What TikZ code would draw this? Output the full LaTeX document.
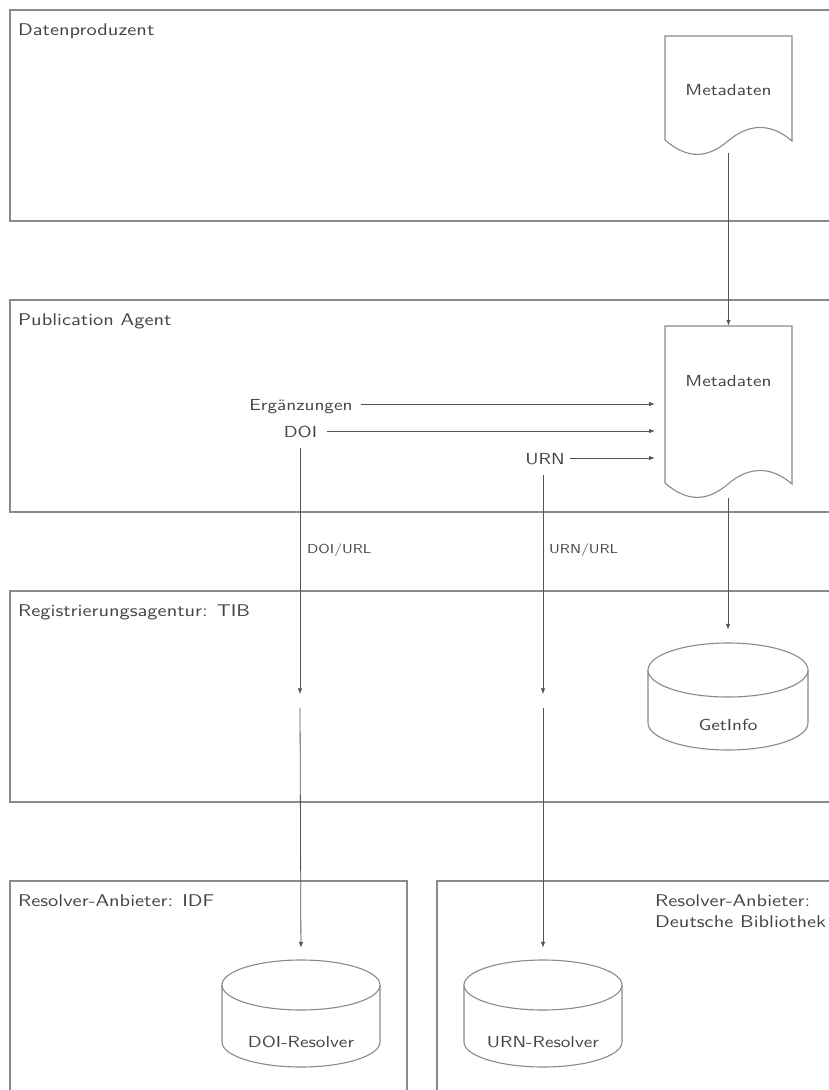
\documentclass[tikz,border=0pt]{standalone}
\usepackage{fontspec}
\setsansfont{lmsans10-regular.otf}[FakeStretch=1.2]
\usetikzlibrary{arrows.meta}
\definecolor{framecol}{HTML}{8A8A8A}
\definecolor{linecol}{HTML}{555555}
\definecolor{txtcol}{HTML}{444444}
\begin{document}
\begin{tikzpicture}[x=1pt,y=-1pt,
  frame/.style={draw=framecol, line width=1.3pt},
  shapeline/.style={draw=framecol, line width=1.1pt, fill=white},
  conn/.style={draw=linecol, line width=0.8pt, -{Latex[length=6pt,width=4.5pt]}},
  title/.style={inner sep=0pt, text=txtcol, font=\sffamily\fontsize{17}{21}\selectfont, align=left},
  lbl/.style={inner sep=0pt, text=txtcol, text height=12pt, text depth=0pt, font=\sffamily\fontsize{16}{19}\selectfont},
  small/.style={anchor=base west, inner sep=0pt, text=txtcol, font=\sffamily\fontsize{13}{15}\selectfont},
  box/.style={inner sep=0pt, draw=none},
  hub/.style={inner sep=0pt, draw=none, minimum width=1pt, minimum height=13pt}
]
\useasboundingbox (0,0) rectangle (829,1090);
\clip (0,0) rectangle (829,1090);

% frames
\draw[frame] (10,10) rectangle (845,221);
\draw[frame] (10,300) rectangle (845,512);
\draw[frame] (10,591) rectangle (845,802);
\draw[frame] (10,881) rectangle (407,1110);
\draw[frame] (437,881) rectangle (845,1110);

\node[title, anchor=base west] (t1) at (18,35) {Datenproduzent};
\node[title, anchor=base west] (t2) at (18,325) {Publication Agent};
\node[title, anchor=base west] (t3) at (18,616) {Registrierungsagentur: TIB};
\node[title, anchor=base west] (t4) at (18,906) {Resolver-Anbieter: IDF};
\node[title, anchor=north west] (t5) at (655,894) {Resolver-Anbieter:\\Deutsche Bibliothek};

% documents
\draw[shapeline] (665,36) -- (792,36) -- (792,141)
  .. controls (770,122) and (748,124) .. (728,141)
  .. controls (708,158) and (688,160) .. (665,140) -- cycle;
\node[box, minimum width=127pt, minimum height=117pt] (doc1) at (728.5,94.5) {};
\node[lbl] (doc1t) at (728.5,89) {Metadaten};

\draw[shapeline] (665,326) -- (792,326) -- (792,484)
  .. controls (770,465) and (748,467) .. (728,484)
  .. controls (708,501) and (688,503) .. (665,483) -- cycle;
\node[box, minimum width=127pt, minimum height=172pt] (doc2) at (728.5,412) {};
\node[lbl] (doc2t) at (728.5,380) {Metadaten};
\coordinate (doc2in) at (655,412);

% cylinders
\draw[shapeline] (648,670) -- (648,723) arc[start angle=180,end angle=360,x radius=80pt,y radius=27pt] -- (808,670);
\draw[shapeline] (728,670) ellipse[x radius=80pt, y radius=27pt];
\node[box, minimum width=160pt, minimum height=107pt] (getinfo) at (728,696.5) {};
\node[lbl] (getinfot) at (728,724) {GetInfo};

\draw[shapeline] (222,985) -- (222,1042) arc[start angle=180,end angle=360,x radius=79pt,y radius=25pt] -- (380,985);
\draw[shapeline] (301,985) ellipse[x radius=79pt, y radius=25pt];
\node[box, minimum width=158pt, minimum height=107pt] (doires) at (301,1013.5) {};
\node[lbl] (doirest) at (301,1041) {DOI-Resolver};

\draw[shapeline] (464,985) -- (464,1042) arc[start angle=180,end angle=360,x radius=79pt,y radius=25pt] -- (622,985);
\draw[shapeline] (543,985) ellipse[x radius=79pt, y radius=25pt];
\node[box, minimum width=158pt, minimum height=107pt] (urnres) at (543,1013.5) {};
\node[lbl] (urnrest) at (543,1041) {URN-Resolver};

% labels in Publication Agent
\node[lbl] (erg) at (301,404) {Ergänzungen};
\node[lbl] (doi) at (300.5,431) {DOI};
\node[lbl] (urn) at (545,458) {URN};

% hubs in TIB
\node[hub] (doihub) at (300,701) {};
\node[hub] (urnhub) at (543,701) {};

% connectors
\draw[conn] (doc1.south) -- (doc2.north);
\draw[conn, shorten <=8pt] (erg.east) -- (erg.east -| doc2in);
\draw[conn, shorten <=10pt] (doi.east) -- (doi.east -| doc2in);
\draw[conn, shorten <=5pt] (urn.east) -- (urn.east -| doc2in);
\draw[conn, shorten >=13pt] (doc2.south -| getinfo) -- (getinfo.north);

\draw[conn, shorten <=11pt] (doi.south -| doihub) -- (doihub.north);
\draw[conn, shorten <=11pt] (urn.south -| urnhub) -- (urnhub.north);
\draw[conn, shorten >=12pt] (doihub.south) -- (doires.north);
\draw[conn, shorten >=12pt] (urnhub.south) -- (urnres.north);

\node[small] (doiurl) at (307,553) {DOI/URL};
\node[small] (urnurl) at (549,553) {URN/URL};
\end{tikzpicture}
\end{document}
